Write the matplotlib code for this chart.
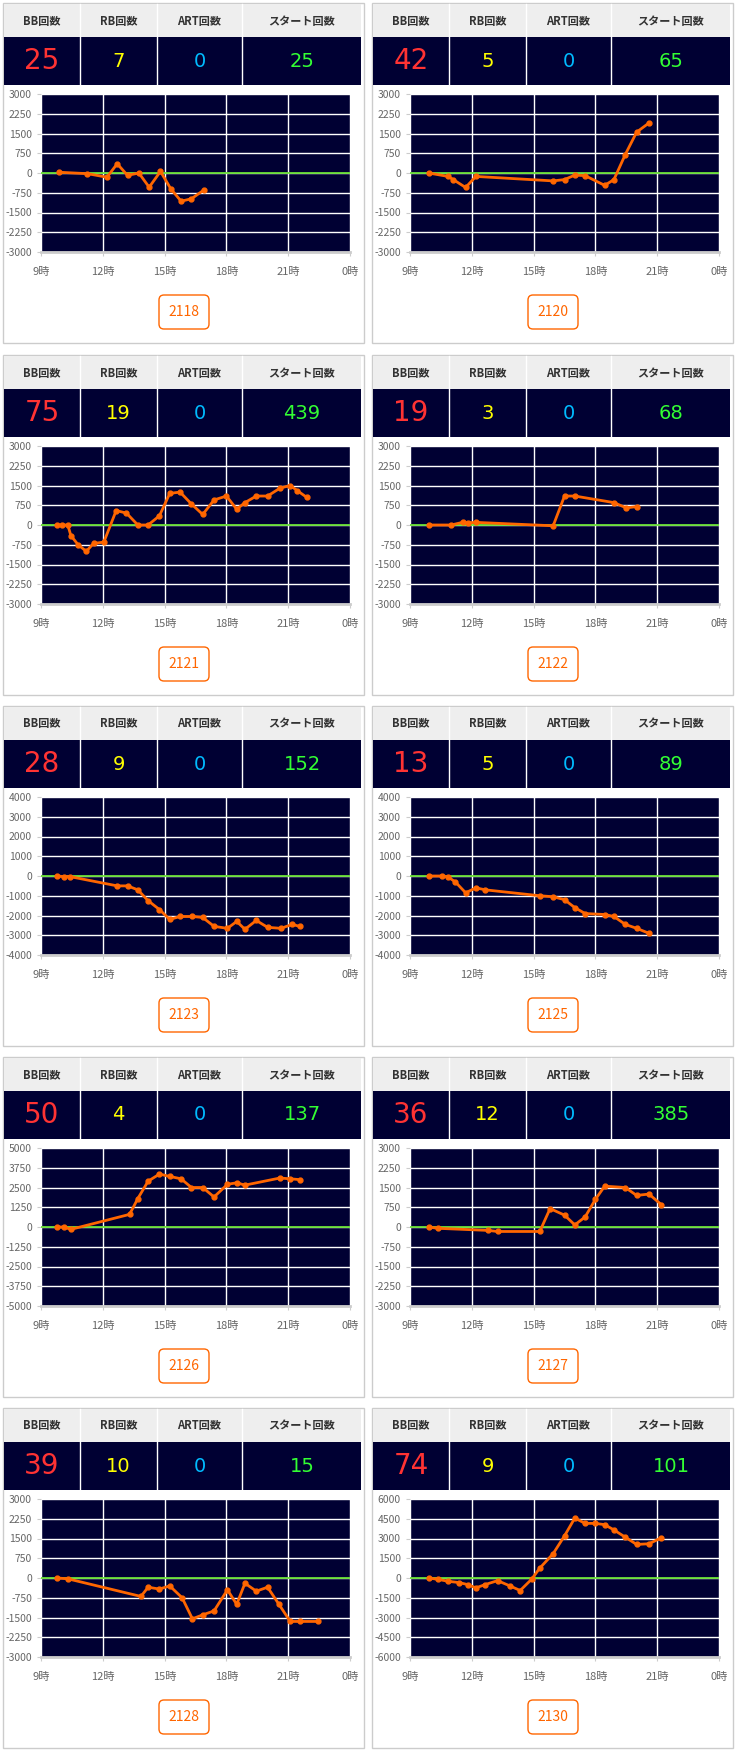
import matplotlib
matplotlib.use("Agg")
import matplotlib.pyplot as plt
from matplotlib.patches import Rectangle, FancyBboxPatch
import numpy as np

plt.rcParams['font.family'] = ['Noto Sans CJK JP', 'DejaVu Sans']

ids = ["2118", "2120", "2121", "2122", "2123", "2125", "2126", "2127", "2128", "2130"]
bb = [25, 42, 75, 19, 28, 13, 50, 36, 39, 74]
rb = [7, 5, 19, 3, 9, 5, 4, 12, 10, 9]
art = [0, 0, 0, 0, 0, 0, 0, 0, 0, 0]
start = [25, 65, 439, 68, 152, 89, 137, 385, 15, 101]
ymax = [3000, 3000, 3000, 3000, 4000, 4000, 5000, 3000, 3000, 6000]

hours = [
 [9.85, 11.25, 12.2, 12.7, 13.2, 13.75, 14.25, 14.8, 15.3, 15.8, 16.3, 16.9],
 [9.9, 10.85, 11.1, 11.7, 12.2, 15.95, 16.5, 17.0, 17.5, 18.45, 18.9, 19.45, 20.0, 20.6],
 [9.8, 10.0, 10.3, 10.45, 10.8, 11.2, 11.55, 12.05, 12.65, 13.15, 13.7, 14.2, 14.75, 15.25, 15.75, 16.3, 16.85, 17.4, 18.0, 18.5, 18.9, 19.45, 20.0, 20.6, 21.1, 21.45, 21.9],
 [9.9, 11.0, 11.55, 11.8, 12.2, 15.95, 16.5, 17.0, 18.9, 19.5, 20.0],
 [9.8, 10.1, 10.4, 12.7, 13.2, 13.7, 14.2, 14.75, 15.25, 15.75, 16.35, 16.85, 17.4, 18.05, 18.5, 18.9, 19.45, 20.0, 20.65, 21.2, 21.55],
 [9.9, 10.55, 10.85, 11.2, 11.7, 12.2, 12.65, 15.3, 15.95, 16.5, 17.0, 17.5, 18.45, 18.9, 19.45, 20.0, 20.6],
 [9.8, 10.1, 10.45, 13.3, 13.7, 14.2, 14.75, 15.25, 15.8, 16.3, 16.85, 17.4, 18.05, 18.5, 18.9, 20.6, 21.1, 21.55],
 [9.9, 10.35, 12.8, 13.25, 15.3, 15.8, 16.5, 17.0, 17.5, 18.0, 18.45, 19.45, 20.0, 20.6, 21.2],
 [9.8, 10.3, 13.85, 14.2, 14.75, 15.25, 15.85, 16.35, 16.85, 17.4, 18.05, 18.5, 18.9, 19.45, 20.0, 20.55, 21.1, 21.55, 22.45],
 [9.9, 10.35, 10.85, 11.4, 11.8, 12.2, 12.65, 13.25, 13.85, 14.35, 14.9, 15.3, 15.95, 16.5, 17.0, 17.5, 18.0, 18.45, 18.9, 19.45, 20.0, 20.6, 21.2],
]
values = [
 [30, -25, -160, 350, -90, 0, -540, 60, -600, -1070, -980, -650],
 [0, -130, -250, -550, -130, -300, -250, -80, -100, -470, -250, 700, 1550, 1900],
 [0, 0, 0, -400, -750, -1000, -700, -650, 550, 450, 0, 0, 350, 1200, 1250, 800, 400, 950, 1100, 600, 850, 1100, 1100, 1400, 1500, 1300, 1050],
 [0, 0, 100, 80, 100, -30, 1100, 1100, 850, 650, 700],
 [0, -30, -30, -500, -500, -700, -1250, -1700, -2200, -2050, -2050, -2100, -2550, -2650, -2300, -2700, -2250, -2600, -2650, -2450, -2550],
 [0, 0, -50, -300, -850, -600, -700, -1000, -1050, -1200, -1600, -1900, -1950, -2050, -2450, -2650, -2900],
 [0, 0, -150, 800, 1800, 2900, 3350, 3200, 3050, 2500, 2500, 1900, 2700, 2800, 2650, 3100, 3050, 3000],
 [0, -50, -130, -170, -170, 700, 450, 80, 380, 1050, 1550, 1500, 1200, 1250, 850],
 [0, -30, -700, -350, -420, -300, -750, -1550, -1400, -1250, -450, -1000, -200, -500, -350, -1000, -1650, -1650, -1650],
 [0, -100, -250, -350, -500, -750, -500, -200, -600, -950, -100, 750, 1850, 3200, 4550, 4150, 4150, 4050, 3650, 3100, 2550, 2600, 3050],
]
xticks = [9, 12, 15, 18, 21, 24]
xlabels = ["9時", "12時", "15時", "18時", "21時", "0時"]
headers = ["BB回数", "RB回数", "ART回数", "スタート回数"]

W, H = 736, 1759
fig = plt.figure(figsize=(W / 100, H / 100), dpi=100)
bg = fig.add_axes([0, 0, 1, 1])
bg.set_xlim(0, W); bg.set_ylim(H, 0); bg.axis('off')

NAVY = '#000033'
col_x = [3, 372]
row_y = [3, 355, 706, 1057, 1408]
PW, PH = 361, 340
cols = [0, 76, 153, 238, 358]
numcolors = ['#ff3333', '#ffff00', '#00bbff', '#33ff33']

for i in range(10):
    px = col_x[i % 2]; py = row_y[i // 2]
    bg.add_patch(Rectangle((px, py), PW, PH, fill=False, ec='#cccccc', lw=1))
    bg.add_patch(Rectangle((px + 1, py + 1), 357, 33, fc='#eeeeee', ec='none'))
    bg.add_patch(Rectangle((px + 1, py + 34), 357, 48, fc=NAVY, ec='none'))
    vals = [bb[i], rb[i], art[i], start[i]]
    for c in range(4):
        x0 = px + 1 + cols[c]; x1 = px + 1 + cols[c + 1]
        if c > 0:
            bg.plot([x0, x0], [py + 1, py + 82], color='white', lw=1)
        cx = (x0 + x1) / 2
        bg.text(cx, py + 18, headers[c], ha='center', va='center', fontsize=8, fontweight='bold', color='#333333')
        bg.text(cx, py + 58, str(vals[c]), ha='center', va='center', fontsize=20 if c == 0 else 14, color=numcolors[c],
                family=['DejaVu Sans'])
    bg.add_patch(FancyBboxPatch((px + 156, py + 292), 50, 34, boxstyle='round,pad=0,rounding_size=5', fc='white', ec='#ff6600', lw=1))
    bg.text(px + 181, py + 309, ids[i], ha='center', va='center', fontsize=10, color='#ff6600')

    l = px + 38; t = py + 91; w = 309; h = 158
    ax = fig.add_axes([l / W, 1 - (t + h) / H, w / W, h / H])
    ax.set_facecolor(NAVY)
    ym = ymax[i]
    ax.set_xlim(9, 24); ax.set_ylim(-ym, ym)
    ax.set_xticks(xticks); ax.set_xticklabels(xlabels)
    yt = np.linspace(-ym, ym, 9)
    ax.set_yticks(yt); ax.set_yticklabels([str(int(v)) for v in yt])
    ax.grid(True, color='white', lw=1)
    ax.set_axisbelow(True)
    ax.tick_params(colors='#666666', labelsize=7.5, length=3, color='#cccccc')
    ax.tick_params(axis='x', pad=8, labelsize=8)
    for s in ax.spines.values():
        s.set_visible(False)
    ax.spines['bottom'].set_visible(True); ax.spines['bottom'].set_color('#cccccc'); ax.spines['bottom'].set_linewidth(2)
    ax.axhline(0, color='#66dd33', lw=1.3)
    ax.plot(hours[i], values[i], color='#ff6600', lw=2, marker='o', ms=3.5)

fig.savefig('out.png', dpi=100)
